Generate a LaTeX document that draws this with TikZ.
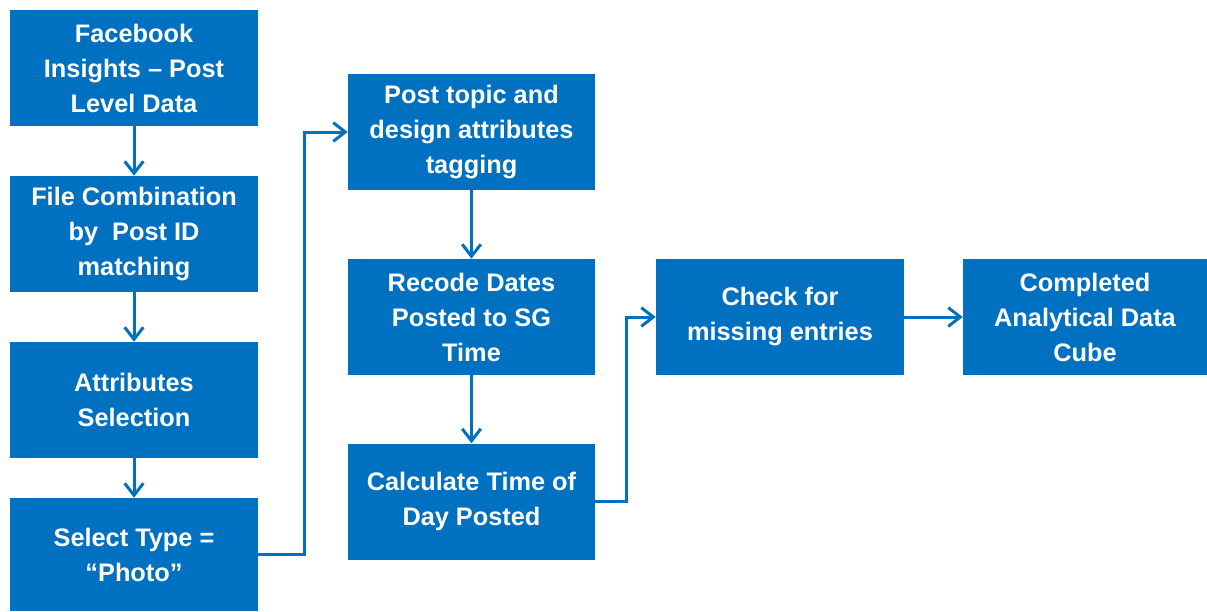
\documentclass[tikz,border=0pt]{standalone}
\usepackage{fontspec}
\setmainfont{Liberation Sans}
\usetikzlibrary{arrows.meta}
\definecolor{boxblue}{HTML}{0070C0}
\begin{document}
\begin{tikzpicture}[x=0.75pt,y=-0.75pt,
  box/.style={fill=boxblue,draw=none,inner sep=0pt,minimum width=186pt,minimum height=87pt,
    text=white,align=center,font=\fontsize{19pt}{26.25pt}\selectfont\bfseries},
  flow/.style={draw=boxblue,line width=2.25pt,-{Straight Barb[length=9pt,width=14pt,line width=2.25pt]}}]
\useasboundingbox (0,0) rectangle (1207,611);
% left column
\node[box] (fb)   at (134,68)  {Facebook\\Insights -- Post\\Level Data};
\node[box] (comb) at (134,234) {File Combination\\by\ \ Post ID\\matching};
\node[box] (attr) at (134,400) {Attributes\\Selection};
\node[box,minimum height=84.75pt] (sel) at (134,554.5) {Select Type =\\“Photo”};
% middle column
\node[box,minimum width=185.25pt] (tag) at (471.5,132) {Post topic and\\design attributes\\tagging};
\node[box,minimum width=185.25pt] (rec) at (471.5,317) {Recode Dates\\Posted to SG\\Time};
\node[box,minimum width=185.25pt] (tod) at (471.5,501.5) {Calculate Time of\\Day Posted};
% right row
\node[box] (chk) at (780,317) {Check for\\missing entries};
\node[box,minimum width=183pt] (cube) at (1085,317) {Completed\\Analytical Data\\Cube};
% connectors
\draw[flow] (fb) -- (comb);
\draw[flow] (comb) -- (attr);
\draw[flow] (attr) -- (sel);
\draw[flow] (sel.east) -- ++(46,0) |- (tag.west);
\draw[flow] (tag) -- (rec);
\draw[flow] (rec) -- (tod);
\draw[flow] (tod.east) -- ++(31,0) |- (chk.west);
\draw[flow] (chk) -- (cube);
\end{tikzpicture}
\end{document}
